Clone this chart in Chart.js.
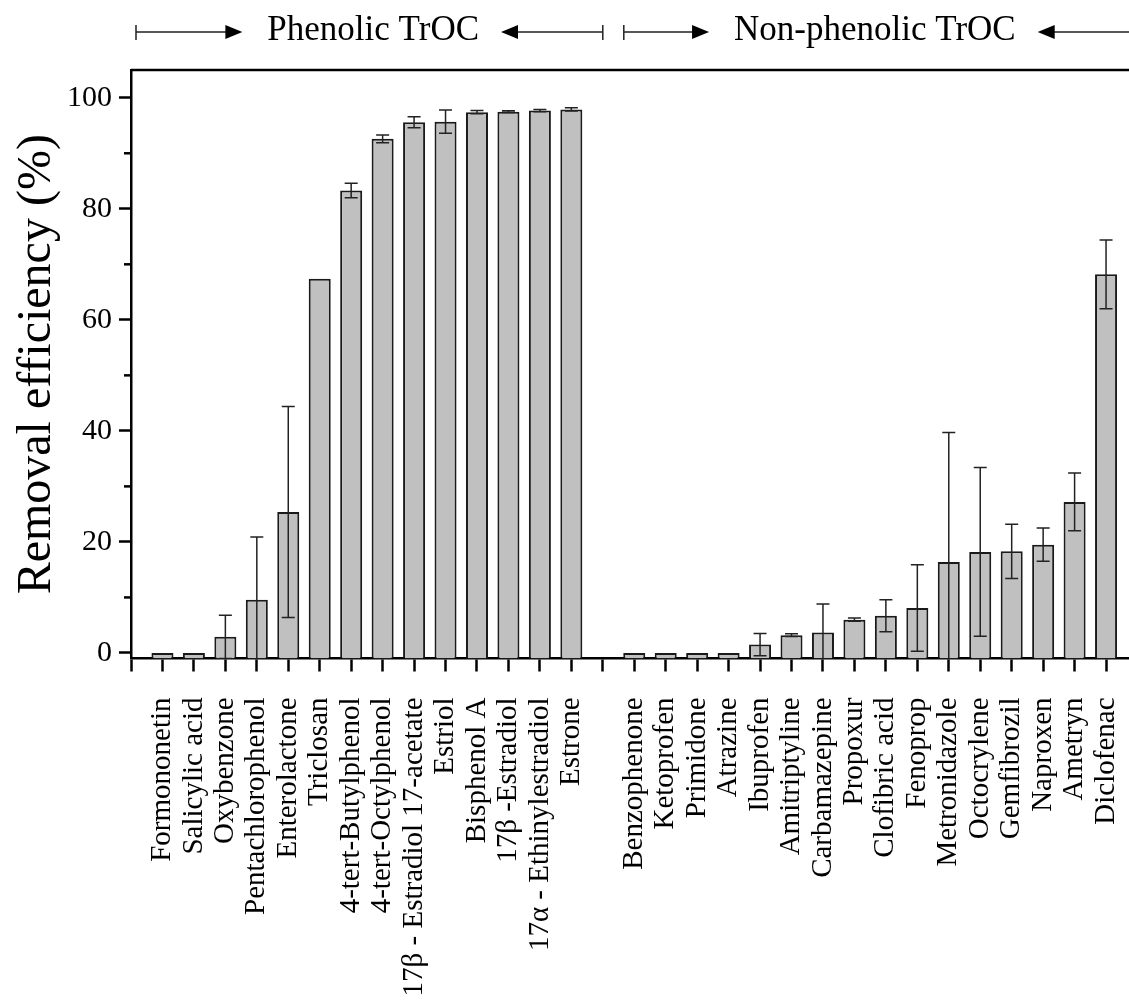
<!DOCTYPE html>
<html>
<head>
<meta charset="utf-8">
<script src="https://cdn.jsdelivr.net/npm/chart.js@4/dist/chart.umd.min.js"></script>
<style>
html, body { margin: 0; padding: 0; overflow: hidden; background: #fff; }
#wrap { width: 1160px; height: 1005px; position: relative; }
</style>
</head>
<body>
<div id="wrap"><canvas id="myChart"></canvas></div>
<script>
// compound names, two groups
const phenolicNames = ["Formononetin", "Salicylic acid", "Oxybenzone", "Pentachlorophenol", "Enterolactone",
    "Triclosan", "4-tert-Butylphenol", "4-tert-Octylphenol", "17\u03B2 - Estradiol 17-acetate", "Estriol",
    "Bisphenol A", "17\u03B2 -Estradiol", "17\u03B1 - Ethinylestradiol", "Estrone"];
const nonPhenolicNames = ["Benzophenone", "Ketoprofen", "Primidone", "Atrazine", "Ibuprofen", "Amitriptyline",
    "Carbamazepine", "Propoxur", "Clofibric acid", "Fenoprop", "Metronidazole", "Octocrylene", "Gemfibrozil",
    "Naproxen", "Ametryn", "Diclofenac"];

// removal efficiency (%) and error (+/-)
const phenolicValues = [0, 0, 2.9, 9.6, 25.4, 67.4, 83.3, 92.6, 95.6, 95.7, 97.4, 97.5, 97.7, 97.9];
const phenolicErrors = [0, 0, 3.9, 11.3, 19.0, 0, 1.3, 0.7, 1.0, 2.1, 0.3, 0.15, 0.2, 0.3];
const nonPhenolicValues = [0, 0, 0, 0, 1.5, 3.2, 3.7, 6.0, 6.7, 8.1, 16.4, 18.2, 18.3, 19.5, 27.2, 68.2];
const nonPhenolicErrors = [0, 0, 0, 0, 2.0, 0.25, 5.1, 0.3, 2.9, 7.8, 23.3, 15.2, 4.9, 3.0, 5.2, 6.2];

const yTicks = [0, 20, 40, 60, 80, 100];
const yMinorTicks = [10, 30, 50, 70, 90];

// empty slot at start, between groups and at the end
const labels = [""].concat(phenolicNames, [""], nonPhenolicNames, [""]);
const values = [null].concat(phenolicValues, [null], nonPhenolicValues, [null]);
const errors = [0].concat(phenolicErrors, [0], nonPhenolicErrors, [0]);

const serif = "'Liberation Serif', 'Times New Roman', serif";

// frame + minor ticks
const framePlugin = {
    id: "frame",
    afterDraw(chart) {
        const ctx = chart.ctx;
        const a = chart.chartArea;
        const y = chart.scales.y;
        ctx.save();
        ctx.strokeStyle = "#000";
        ctx.lineWidth = 2.5;
        ctx.beginPath();
        ctx.moveTo(a.left, a.top);
        ctx.lineTo(a.right, a.top);
        ctx.lineTo(a.right, a.bottom);
        ctx.stroke();
        yMinorTicks.forEach(v => {
            const py = y.getPixelForValue(v);
            ctx.beginPath();
            ctx.moveTo(a.left, py);
            ctx.lineTo(a.left - 7, py);
            ctx.stroke();
        });
        ctx.restore();
    }
};

const errorBarPlugin = {
    id: "errorBars",
    afterDatasetsDraw(chart) {
        const ctx = chart.ctx;
        const a = chart.chartArea;
        const y = chart.scales.y;
        const meta = chart.getDatasetMeta(0);
        ctx.save();
        ctx.beginPath();
        ctx.rect(a.left, a.top, a.right - a.left, a.bottom - a.top);
        ctx.clip();
        ctx.strokeStyle = "#222";
        ctx.lineWidth = 1.5;
        meta.data.forEach((bar, i) => {
            const e = errors[i];
            if (!e || values[i] === null) return;
            const hi = y.getPixelForValue(values[i] + e);
            const lo = y.getPixelForValue(values[i] - e);
            ctx.beginPath();
            ctx.moveTo(bar.x, hi);
            ctx.lineTo(bar.x, lo);
            ctx.moveTo(bar.x - 6.5, hi);
            ctx.lineTo(bar.x + 6.5, hi);
            ctx.moveTo(bar.x - 6.5, lo);
            ctx.lineTo(bar.x + 6.5, lo);
            ctx.stroke();
        });
        ctx.restore();
    }
};

// group arrows above the plot
const groupPlugin = {
    id: "groups",
    afterDraw(chart) {
        const ctx = chart.ctx;
        const x = chart.scales.x;
        const lineY = 32;
        ctx.save();
        ctx.font = "35px " + serif;
        ctx.fillStyle = "#000";
        ctx.strokeStyle = "#222";
        ctx.lineWidth = 1.5;
        ctx.textAlign = "center";
        ctx.textBaseline = "alphabetic";

        function arrowHead(tipX, dir) {
            ctx.beginPath();
            ctx.moveTo(tipX, lineY);
            ctx.lineTo(tipX - dir * 17, lineY - 7);
            ctx.lineTo(tipX - dir * 17, lineY + 7);
            ctx.closePath();
            ctx.fill();
        }

        function group(text, from, to, center) {
            const w = ctx.measureText(text).width;
            ctx.fillText(text, center, 40);
            const leftTip = center - w / 2 - 25;
            const rightTip = center + w / 2 + 22;
            ctx.beginPath();
            ctx.moveTo(from, lineY);
            ctx.lineTo(leftTip - 10, lineY);
            ctx.moveTo(from, lineY - 7);
            ctx.lineTo(from, lineY + 8);
            ctx.moveTo(rightTip + 10, lineY);
            ctx.lineTo(to, lineY);
            ctx.moveTo(to, lineY - 7);
            ctx.lineTo(to, lineY + 8);
            ctx.stroke();
            arrowHead(leftTip, 1);
            arrowHead(rightTip, -1);
        }

        group("Phenolic TrOC", x.getPixelForValue(0) + 5, x.getPixelForValue(15), x.getPixelForValue(7.7));
        group("Non-phenolic TrOC", x.getPixelForValue(15) + 21, x.getPixelForValue(32) + 20, x.getPixelForValue(23.65));
        ctx.restore();
    }
};

window.myChart = new Chart("myChart", {
    type: "bar",
    data: {
        labels: labels,
        datasets: [{
            data: values,
            base: -1,
            backgroundColor: "#c0c0c0",
            borderColor: "#1a1a1a",
            borderWidth: 2,
            barPercentage: 0.7,
            categoryPercentage: 1.0
        }]
    },
    options: {
        responsive: true,
        maintainAspectRatio: false,
        animation: false,
        devicePixelRatio: 1,
        layout: { padding: { top: 70, right: 22.5, left: 0, bottom: 0 } },
        plugins: {
            legend: { display: false },
            tooltip: { enabled: false }
        },
        scales: {
            x: {
                type: "category",
                offset: false,
                grid: { offset: false, drawOnChartArea: false, drawTicks: true, tickLength: 13, tickWidth: 2.5, tickColor: "#000" },
                border: { display: true, color: "#000", width: 2.5 },
                ticks: {
                    autoSkip: false,
                    maxRotation: 90,
                    minRotation: 90,
                    padding: 26,
                    color: "#000",
                    font: { family: serif, size: 29 }
                },
                // fixed plot box, no extra label padding at the ends
                afterFit: s => { s.height = 1005 - 658.5; s.paddingLeft = 0; s.paddingRight = 0; }
            },
            y: {
                min: -1,
                max: 105,
                afterBuildTicks: s => { s.ticks = yTicks.map(v => ({ value: v })); },
                grid: { drawOnChartArea: false, tickLength: 12, tickWidth: 2.5, tickColor: "#000" },
                border: { color: "#000", width: 2.5 },
                ticks: { padding: 7, color: "#000", font: { family: serif, size: 30 } },
                title: {
                    display: true,
                    text: "Removal efficiency (%)",
                    color: "#000",
                    font: { family: serif, size: 48 },
                    padding: { top: 9, bottom: 0 }
                },
                afterFit: s => { s.width = 131; }
            }
        }
    },
    plugins: [framePlugin, errorBarPlugin, groupPlugin]
});
</script>
</body>
</html>
